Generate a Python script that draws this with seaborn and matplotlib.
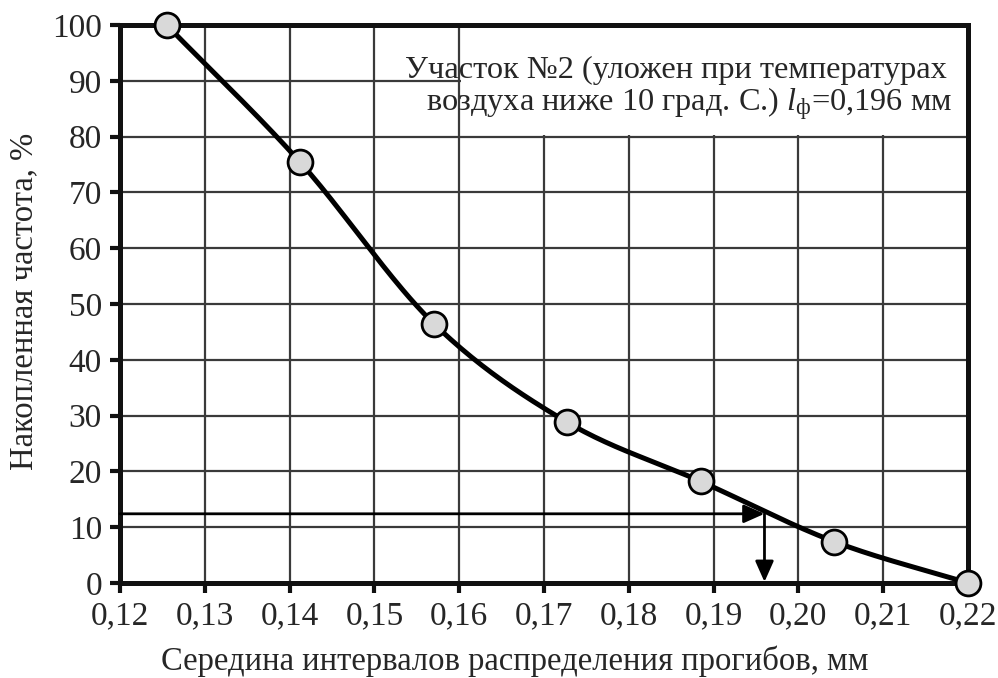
import numpy as np
import pandas as pd
import seaborn as sns
import matplotlib
matplotlib.use("Agg")
import matplotlib.pyplot as plt
from matplotlib.patches import Rectangle

# ---- data ----
x_mid = [0.1255, 0.14125, 0.157, 0.17275, 0.1885, 0.20425, 0.22]
cum_freq = [100.0, 75.4, 46.5, 28.8, 18.2, 7.4, 0.0]
x_ticks = [0.12, 0.13, 0.14, 0.15, 0.16, 0.17, 0.18, 0.19, 0.20, 0.21, 0.22]
x_tick_labels = ["0,12", "0,13", "0,14", "0,15", "0,16", "0,17", "0,18", "0,19", "0,20", "0,21", "0,22"]
y_ticks = [0, 10, 20, 30, 40, 50, 60, 70, 80, 90, 100]
level_y = 12.4
l_phi = 0.196

sns.set_theme(style="white")
plt.rcParams["font.family"] = ["Liberation Serif", "DejaVu Serif"]
plt.rcParams["mathtext.fontset"] = "custom"
plt.rcParams["mathtext.rm"] = "Liberation Serif"
plt.rcParams["mathtext.it"] = "Liberation Serif:italic"


def catmull_rom(xs, ys, n=40):
    P = np.column_stack([xs, ys]).astype(float)
    P = np.vstack([2 * P[0] - P[1], P, 2 * P[-1] - P[-2]])
    out = []
    t = np.linspace(0, 1, n)
    for i in range(1, len(P) - 2):
        p0, p1, p2, p3 = P[i - 1], P[i], P[i + 1], P[i + 2]
        seg = 0.5 * ((2 * p1)[None, :]
                     + (-p0 + p2)[None, :] * t[:, None]
                     + (2 * p0 - 5 * p1 + 4 * p2 - p3)[None, :] * t[:, None] ** 2
                     + (-p0 + 3 * p1 - 3 * p2 + p3)[None, :] * t[:, None] ** 3)
        out.append(seg if i == 1 else seg[1:])
    S = np.vstack(out)
    return S[:, 0], S[:, 1]


sx, sy = catmull_rom(np.array(x_mid) * 1000, np.array(cum_freq))
curve = pd.DataFrame({"x": sx / 1000, "y": sy})
pts = pd.DataFrame({"x": x_mid, "y": cum_freq})

fig = plt.figure(figsize=(9.98, 6.78), dpi=100)
ax = fig.add_axes([120 / 998, 1 - 583 / 678, (968 - 120) / 998, (583 - 25) / 678])

ax.set_xlim(0.12, 0.22)
ax.set_ylim(0, 100)
ax.set_xticks(x_ticks)
ax.set_xticklabels(x_tick_labels)
ax.set_yticks(y_ticks)
ax.grid(True, color="#3a3a3a", linewidth=1.6, zorder=0)
ax.set_axisbelow(True)

# white text box (covers grid)
ax.add_patch(Rectangle((0.1602, 80.3), 0.22 - 0.1602, 19.7, facecolor="white",
                       edgecolor="none", zorder=1))

sns.lineplot(data=curve, x="x", y="y", sort=False, estimator=None, color="black",
             linewidth=3.6, ax=ax, zorder=3, clip_on=False)
sns.scatterplot(data=pts, x="x", y="y", s=320, color="#d9d9d9", edgecolor="black",
                linewidth=2.0, ax=ax, zorder=4, clip_on=False)

# arrows
astyle = "-|>,head_length=0.45,head_width=0.2"
ax.annotate("", xy=(l_phi, level_y), xytext=(0.12, level_y),
            arrowprops=dict(arrowstyle=astyle, color="black", lw=2.0,
                            mutation_scale=28, shrinkA=0, shrinkB=0), zorder=5)
ax.annotate("", xy=(l_phi, 0.2), xytext=(l_phi, level_y),
            arrowprops=dict(arrowstyle=astyle, color="black", lw=2.0,
                            mutation_scale=28, shrinkA=0, shrinkB=0), zorder=5)

ax.text(0.21752, 90.5, "Участок №2 (уложен при температурах", ha="right", va="baseline",
        fontsize=23.3, zorder=6)
ax.text(0.21811, 84.6, r"воздуха ниже 10 град. С.) $\mathit{l}_{\mathrm{ф}}$=0,196 мм",
        ha="right", va="baseline", fontsize=23.3, zorder=6)

for s in ax.spines.values():
    s.set_color("#111111")
    s.set_linewidth(3.6)
    s.set_zorder(2)

ax.tick_params(axis="both", which="both", direction="out", length=7, width=3,
               color="#111111", labelsize=24, left=True, bottom=True)
ax.tick_params(axis="x", pad=6)
ax.tick_params(axis="y", pad=6)
ax.set_xlabel("Середина интервалов распределения прогибов, мм", fontsize=23.5, va="baseline")
ax.xaxis.set_label_coords((515 - 120) / 848, (583 - 670) / 558)
ax.set_ylabel("Накопленная частота, %", fontsize=23.5, va="center")
ax.yaxis.set_label_coords((24 - 120) / 848, (583 - 301) / 558)

fig.savefig("out.png", dpi=100)
